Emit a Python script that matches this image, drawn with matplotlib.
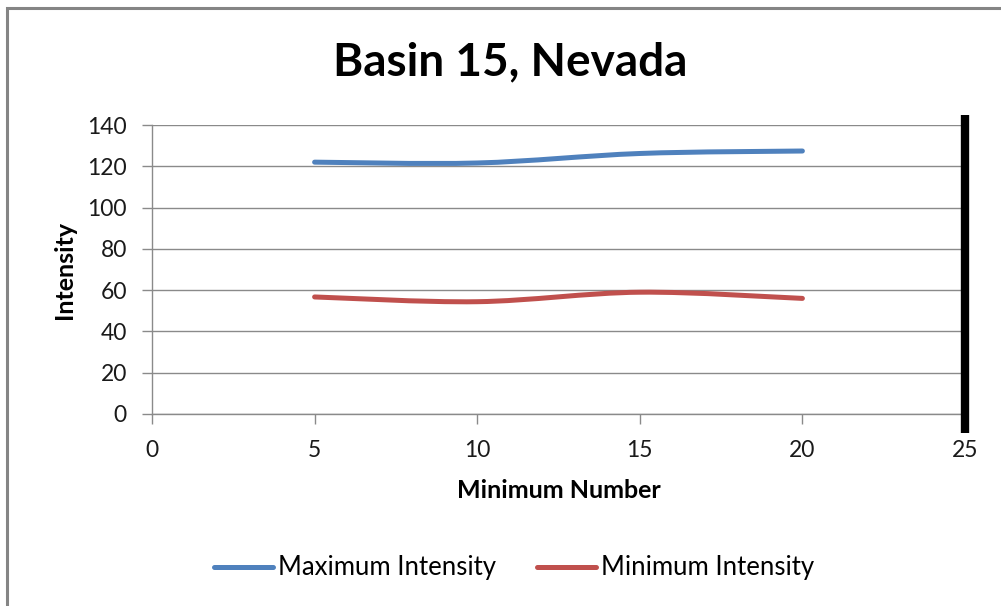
import matplotlib
matplotlib.use("Agg")
import matplotlib.pyplot as plt
from matplotlib.path import Path
from matplotlib.patches import PathPatch, Rectangle
from matplotlib.lines import Line2D
import numpy as np

plt.rcParams['font.family'] = ['Lato', 'DejaVu Sans']

title = "Basin 15, Nevada"
x_label = "Minimum Number"
y_label = "Intensity"
min_number = [5, 10, 15, 20]
max_intensity = [122, 121.6, 126.2, 127.4]
min_intensity = [56.7, 54.4, 59.0, 56.0]
series_names = ["Maximum Intensity", "Minimum Intensity"]
series_colors = ["#4F81BD", "#C0504D"]
marker_x = 25
marker_range = [-9, 145]


def smooth_path(xs, ys):
    pts = np.column_stack([xs, ys]).astype(float)
    n = len(pts)
    verts = [pts[0]]
    codes = [Path.MOVETO]
    for i in range(n - 1):
        p0 = pts[i - 1] if i > 0 else pts[i]
        p1 = pts[i]
        p2 = pts[i + 1]
        p3 = pts[i + 2] if i + 2 < n else pts[i + 1]
        c1 = p1 + (p2 - p0) / 6.0
        c2 = p2 - (p3 - p1) / 6.0
        verts += [c1, c2, p2]
        codes += [Path.CURVE4] * 3
    return Path(verts, codes)


fig = plt.figure(figsize=(10.01, 6.06), dpi=100)
ax = fig.add_axes([152 / 1001, 192 / 606, (965 - 152) / 1001, (414 - 125) / 606])

ax.set_xlim(0, 25)
ax.set_ylim(0, 140)
ax.set_xticks(range(0, 26, 5))
ax.set_yticks(range(0, 141, 20))
ax.yaxis.grid(True, color="#8a8a8a", linewidth=1.0)
ax.set_axisbelow(True)
for s in ["top", "right"]:
    ax.spines[s].set_visible(False)
for s in ["left", "bottom"]:
    ax.spines[s].set_color("#8a8a8a")
    ax.spines[s].set_linewidth(1.0)
ax.tick_params(axis="both", colors="#8a8a8a", labelcolor="#1a1a1a", labelsize=16.5,
               length=7, width=1.0, direction="out")
ax.tick_params(axis="x", pad=12)
ax.tick_params(axis="y", pad=11)

for ys, c in zip([max_intensity, min_intensity], series_colors):
    patch = PathPatch(smooth_path(min_number, ys), facecolor="none", edgecolor=c,
                      linewidth=3.6, capstyle="round", transform=ax.transData)
    ax.add_patch(patch)

ax.plot([marker_x, marker_x], marker_range, color="black", linewidth=6,
        solid_capstyle="butt", clip_on=False, zorder=5)

ax.set_xlabel(x_label, fontsize=18, fontweight="bold", labelpad=13)
ax.set_ylabel(y_label, fontsize=18, fontweight="bold", labelpad=8)

fig.text(510 / 1001, 1 - 62 / 606, title, fontsize=33, fontweight="bold",
         ha="center", va="center", color="black")

handles = [Line2D([0], [0], color=c, linewidth=3.6, solid_capstyle="round") for c in series_colors]
fig.legend(handles, series_names, loc="center", bbox_to_anchor=(514 / 1001, 1 - 568 / 606),
           ncol=2, frameon=False, fontsize=18.5, handlelength=2.3, handletextpad=0.2,
           columnspacing=1.6)

fig.patches.append(Rectangle((7 / 1001, -0.1), 1.2, 1 - 8 / 606 + 0.1, transform=fig.transFigure,
                             facecolor="none", edgecolor="#858585", linewidth=2.2))

fig.savefig("out.png", dpi=100)
